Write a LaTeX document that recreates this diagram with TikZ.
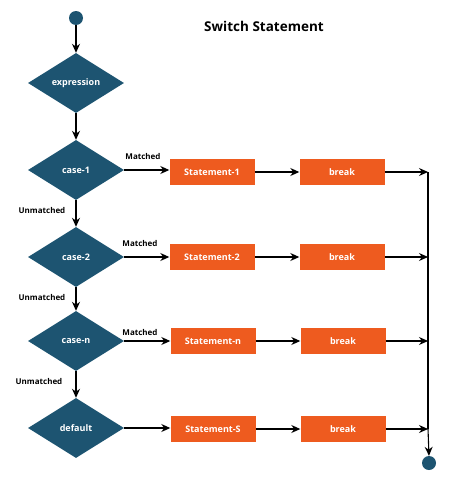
\documentclass[tikz,border=0pt]{standalone}
\usepackage{fontspec}
\setmainfont{Open Sans}
\usetikzlibrary{shapes.geometric,arrows.meta}
\definecolor{teal}{HTML}{1D5471}
\definecolor{orng}{HTML}{EE5B1F}
\begin{document}
\begin{tikzpicture}[x=1pt,y=-1pt,
  dec/.style={diamond,fill=teal,draw=none,minimum width=96pt,minimum height=60pt,inner sep=0pt,text=white,font=\fontsize{9}{10}\selectfont\bfseries},
  stm/.style={rectangle,fill=orng,draw=none,minimum width=85pt,minimum height=26pt,inner sep=0pt,text=white,font=\fontsize{9}{10}\selectfont\bfseries},
  dot/.style={circle,fill=teal,draw=none,minimum size=14pt,inner sep=0pt},
  lbl/.style={font=\fontsize{8}{9}\selectfont\bfseries,inner sep=0pt},
  arr/.style={-{Stealth[length=9pt,width=8pt]},line width=1.1pt,black},
  ln/.style={line width=1.1pt,black}]
\useasboundingbox (0,0) rectangle (474,490);
\node[font=\fontsize{13.5}{15}\selectfont\bfseries] (title) at (264,26) {Switch Statement};
\node[dot] (start) at (76,18) {};
\node[dec] (expr) at (76,83) {expression};
\node[dec] (c1) at (76,170) {case-1};
\node[dec] (c2) at (76,257) {case-2};
\node[dec] (cn) at (76,341) {case-n};
\node[dec] (def) at (76,428) {default};
\node[stm] (s1) at (212,172) {Statement-1};
\node[stm] (b1) at (342,172) {break};
\node[stm] (s2) at (212,257) {Statement-2};
\node[stm] (b2) at (342,257) {break};
\node[stm] (sn) at (213,341) {Statement-n};
\node[stm] (bn) at (343,341) {break};
\node[stm] (ss) at (213,429) {Statement-S};
\node[stm] (bs) at (343,429) {break};
\node[dot] (end) at (429,463) {};
\coordinate (r1) at (428,172);
\coordinate (r2) at (428,257);
\coordinate (rn) at (428,341);
\coordinate (rs) at (428,429);
\draw[arr] (start) -- (expr.north);
\draw[arr] (expr.south) -- (c1.north);
\draw[arr] (c1.south) -- (c2.north);
\draw[arr] (c2.south) -- (cn.north);
\draw[arr] (cn.south) -- (def.north);
\draw[arr] (c1.east) -- (s1.west |- c1.east);
\draw[arr] (c2.east) -- (s2.west |- c2.east);
\draw[arr] (cn.east) -- (sn.west |- cn.east);
\draw[arr] (def.east) -- (ss.west |- def.east);
\draw[arr] (s1) -- (b1);
\draw[arr] (s2) -- (b2);
\draw[arr] (sn) -- (bn);
\draw[arr] (ss) -- (bs);
\draw[arr] (b1) -- (r1);
\draw[arr] (b2) -- (r2);
\draw[arr] (bn) -- (rn);
\draw[arr] (bs) -- (rs);
\draw[ln] (r1) -- (rs);
\draw[arr] (rs) -- (end.north);
\node[lbl] (m1) at (143,156) {Matched};
\node[lbl] (m2) at (140,243) {Matched};
\node[lbl] (mn) at (140,332) {Matched};
\node[lbl] (u1) at (42,210) {Unmatched};
\node[lbl] (u2) at (42,297) {Unmatched};
\node[lbl] (un) at (39,381) {Unmatched};
\end{tikzpicture}
\end{document}
